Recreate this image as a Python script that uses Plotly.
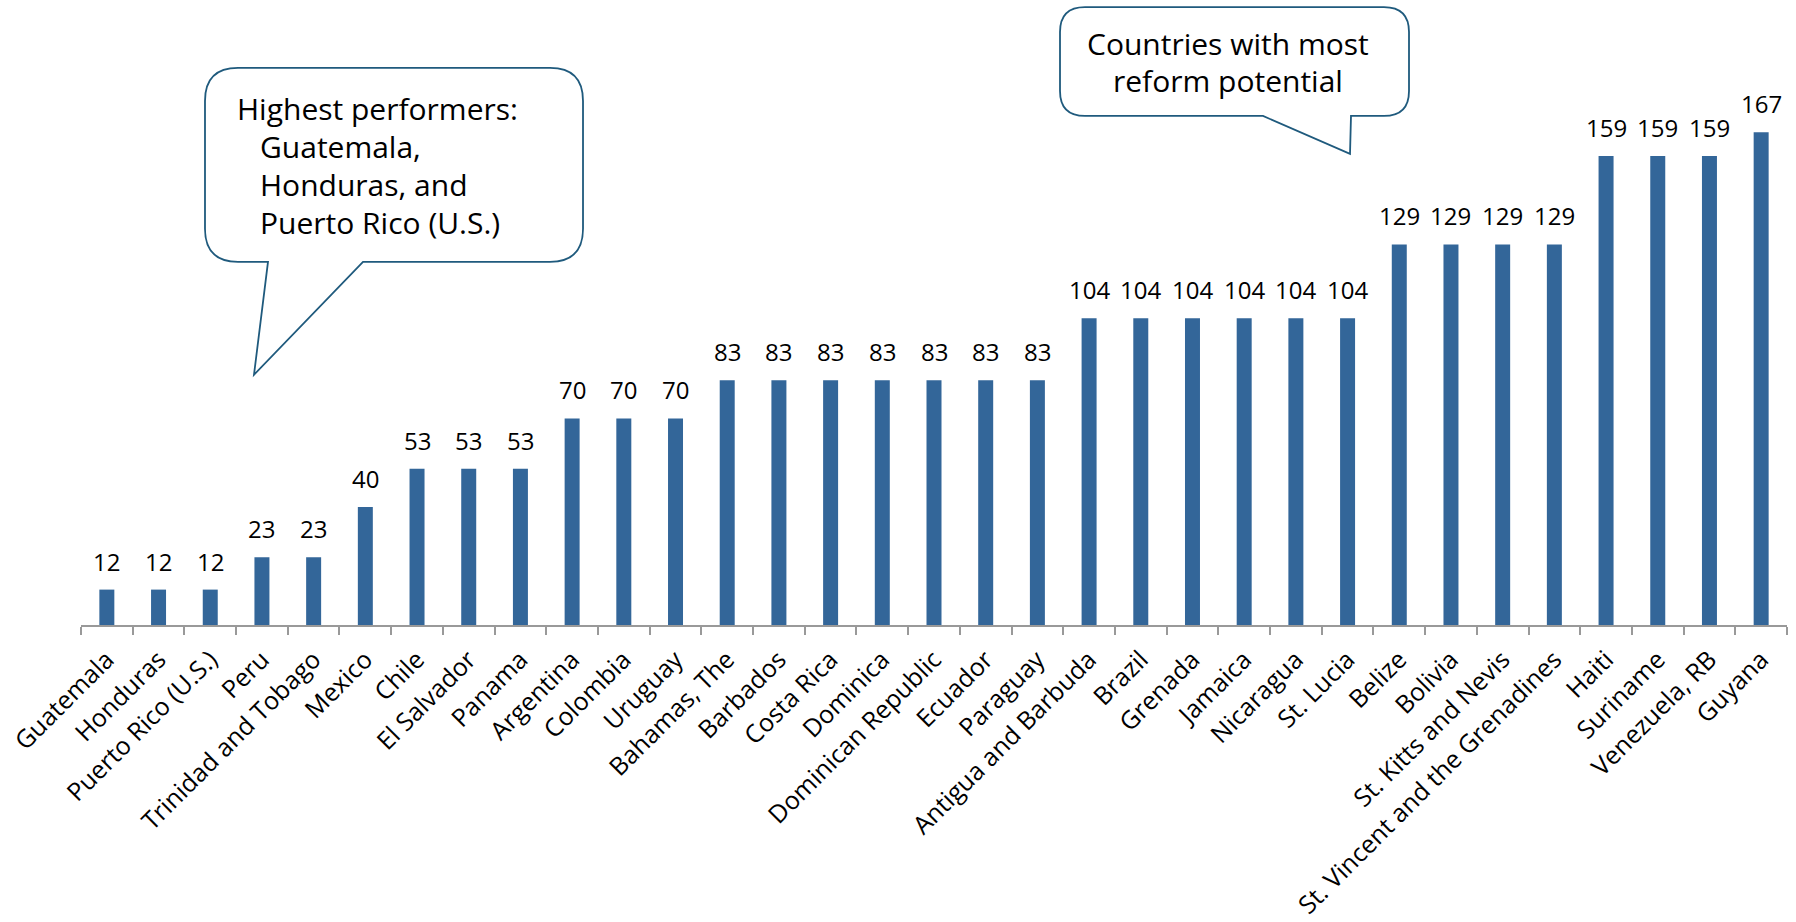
import plotly.graph_objects as go

countries = [
    "Guatemala", "Honduras", "Puerto Rico (U.S.)", "Peru", "Trinidad and Tobago",
    "Mexico", "Chile", "El Salvador", "Panama", "Argentina", "Colombia", "Uruguay",
    "Bahamas, The", "Barbados", "Costa Rica", "Dominica", "Dominican Republic",
    "Ecuador", "Paraguay", "Antigua and Barbuda", "Brazil", "Grenada", "Jamaica",
    "Nicaragua", "St. Lucia", "Belize", "Bolivia", "St. Kitts and Nevis",
    "St. Vincent and the Grenadines", "Haiti", "Suriname", "Venezuela, RB", "Guyana",
]
ranks = [12, 12, 12, 23, 23, 40, 53, 53, 53, 70, 70, 70, 83, 83, 83, 83, 83, 83, 83,
         104, 104, 104, 104, 104, 104, 129, 129, 129, 129, 159, 159, 159, 167]

callout_left_lines = ["Highest performers:", "Guatemala,", "Honduras, and", "Puerto Rico (U.S.)"]
callout_right_lines = ["Countries with most", "reform potential"]

W, H = 1796, 922
L, R, T, B = 81, 9, 40, 296.5
PW = W - L - R
PH = H - T - B
YMAX = 198.3
FONT = "Open Sans"
BAR = "#336699"
EDGE = "#1f5a7d"


def X(px):
    return (px - L) / PW


def Y(py):
    return (H - B - py) / PH


def P(px, py):
    return f"{X(px):.5f},{Y(py):.5f}"


def bubble(x0, y0, x1, y1, r, tail):
    d = f"M {P(x0 + r, y0)} L {P(x1 - r, y0)} Q {P(x1, y0)} {P(x1, y0 + r)} "
    d += f"L {P(x1, y1 - r)} Q {P(x1, y1)} {P(x1 - r, y1)} "
    for (tx, ty) in tail:
        d += f"L {P(tx, ty)} "
    d += f"L {P(x0 + r, y1)} Q {P(x0, y1)} {P(x0, y1 - r)} "
    d += f"L {P(x0, y0 + r)} Q {P(x0, y0)} {P(x0 + r, y0)} Z"
    return d


fig = go.Figure()
fig.add_trace(go.Bar(
    x=countries, y=ranks, marker=dict(color=BAR, line=dict(width=0)),
    hoverinfo="x+y",
))

for c, v in zip(countries, ranks):
    fig.add_annotation(x=c, y=v, text=str(v), showarrow=False, yanchor="bottom",
                       yshift=10, font=dict(family=FONT, size=24, color="black"))

shapes = [
    dict(type="path", xref="paper", yref="paper",
         path=bubble(205, 68, 583, 262, 33, [(363, 262), (254, 375), (268, 262)]),
         line=dict(color=EDGE, width=1.8), fillcolor="white", layer="above"),
    dict(type="path", xref="paper", yref="paper",
         path=bubble(1060, 7, 1409, 116, 25, [(1351, 116), (1350, 154), (1263, 116)]),
         line=dict(color=EDGE, width=1.8), fillcolor="white", layer="above"),
]

# left callout: one annotation per line (baseline positions in px)
left_base = [120, 158, 196, 234]
left_x = [235, 258, 258, 258]
for txt, bl, lx in zip(callout_left_lines, left_base, left_x):
    fig.add_annotation(xref="paper", yref="paper", x=X(lx), y=Y(bl - 11.6),
                       xanchor="left", yanchor="middle", showarrow=False, text=txt,
                       font=dict(family=FONT, size=30, color="black"))

right_base = [55, 92]
for txt, bl in zip(callout_right_lines, right_base):
    fig.add_annotation(xref="paper", yref="paper", x=X(1228), y=Y(bl - 11.6),
                       xanchor="center", yanchor="middle", showarrow=False, text=txt,
                       font=dict(family=FONT, size=30, color="black"))

fig.update_layout(
    width=W, height=H,
    margin=dict(l=L, r=R, t=T, b=B),
    paper_bgcolor="white", plot_bgcolor="white",
    bargap=0.71, showlegend=False, shapes=shapes,
    font=dict(family=FONT, color="black"),
)
fig.update_xaxes(
    type="category", range=[-0.5, len(countries) - 0.5],
    tickangle=-45, tickfont=dict(family=FONT, size=25, color="black"),
    ticklabelstandoff=8,
    showline=True, linecolor="#999999", linewidth=2,
    ticks="outside", tickson="boundaries", ticklen=8, tickcolor="#999999", tickwidth=2,
    showgrid=False, zeroline=False, automargin=False,
)
fig.update_yaxes(visible=False, range=[0, YMAX], showgrid=False, zeroline=False)

fig.write_html("out.html")
